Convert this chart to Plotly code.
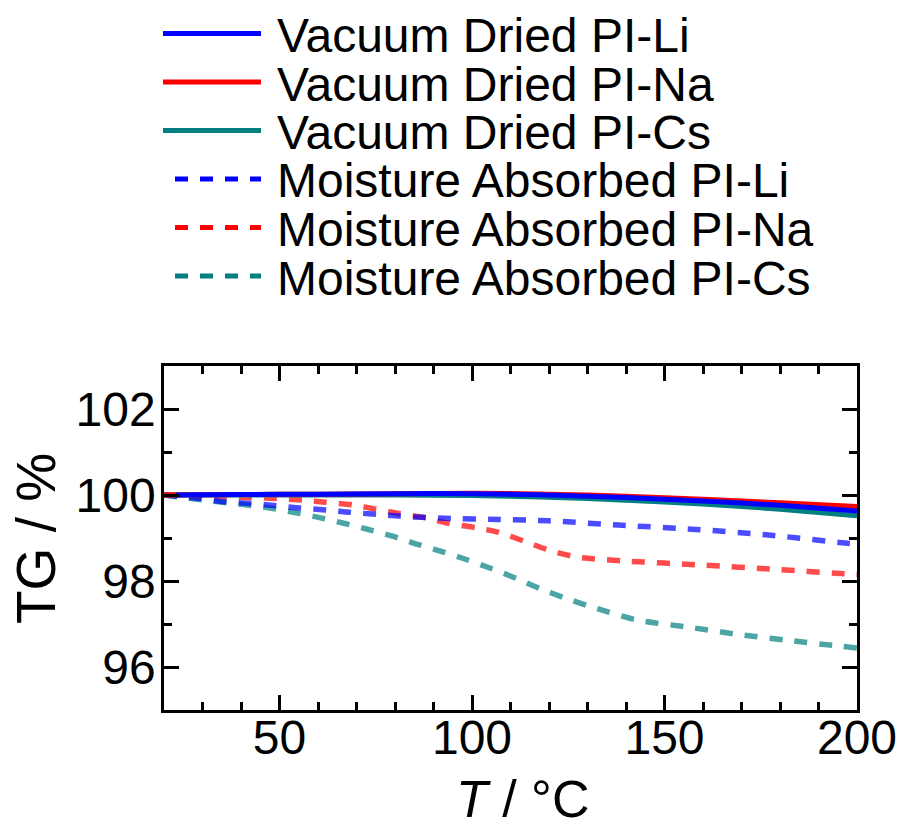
import plotly.graph_objects as go

# ---------------- data ----------------
NAMES = [
    "Vacuum Dried PI-Li",
    "Vacuum Dried PI-Na",
    "Vacuum Dried PI-Cs",
    "Moisture Absorbed PI-Li",
    "Moisture Absorbed PI-Na",
    "Moisture Absorbed PI-Cs",
]

T_VD_LI = [23, 40, 60, 80, 100, 120, 140, 160, 180, 200]
TG_VD_LI = [100.0, 100.01, 100.02, 100.03, 100.03, 100.0, 99.94, 99.86, 99.76, 99.63]

T_VD_NA = [20, 40, 60, 80, 100, 120, 140, 160, 180, 200]
TG_VD_NA = [100.0, 100.01, 100.02, 100.03, 100.04, 100.02, 99.97, 99.9, 99.82, 99.73]

T_VD_CS = [20, 40, 60, 80, 100, 120, 140, 160, 180, 200]
TG_VD_CS = [100.0, 100.0, 100.0, 100.0, 99.99, 99.95, 99.88, 99.79, 99.67, 99.52]

T_MA_LI = [20, 29, 36, 42, 49, 55, 62, 68, 75, 81, 87, 93, 107, 120, 138, 158, 177, 196, 200]
TG_MA_LI = [100.0, 99.92, 99.84, 99.81, 99.75, 99.70, 99.65, 99.60, 99.55, 99.51, 99.48,
            99.46, 99.43, 99.40, 99.30, 99.20, 99.07, 98.89, 98.86]

T_MA_NA = [20, 36, 49, 56, 62, 69, 75, 81, 88, 94, 101, 107, 114, 120, 127, 139, 160, 179, 198, 200]
TG_MA_NA = [100.0, 99.96, 99.92, 99.88, 99.83, 99.77, 99.67, 99.57, 99.47, 99.34, 99.24,
            99.13, 98.91, 98.72, 98.56, 98.47, 98.37, 98.27, 98.16, 98.15]

T_MA_CS = [20, 27.7, 34.2, 40.6, 47.1, 53.6, 60.1, 66.4, 72.6, 79.1, 85.6, 92, 98.5, 105,
           111.5, 117.5, 124, 131, 143, 156, 169, 182, 196, 200]
TG_MA_CS = [100.0, 99.91, 99.84, 99.78, 99.70, 99.60, 99.48, 99.35, 99.21, 99.05, 98.86,
            98.69, 98.50, 98.29, 98.06, 97.83, 97.61, 97.40, 97.09, 96.93, 96.76, 96.62,
            96.48, 96.44]

X_RANGE = [20, 200]
Y_RANGE = [95, 103]
X_TITLE = "<i>T</i> / °C"
Y_TITLE = "TG / %"

# ---------------- style ----------------
FONT = "Liberation Sans, Arial, sans-serif"
C_BLUE = "#0000ff"
C_RED = "#ff0000"
C_TEAL = "#008080"
DASH = "13px,12px"

fig = go.Figure()

dashed = [
    (T_MA_CS, TG_MA_CS, C_TEAL, NAMES[5]),
    (T_MA_NA, TG_MA_NA, C_RED, NAMES[4]),
    (T_MA_LI, TG_MA_LI, C_BLUE, NAMES[3]),
]
solid = [
    (T_VD_CS, TG_VD_CS, C_TEAL, NAMES[2]),
    (T_VD_NA, TG_VD_NA, C_RED, NAMES[1]),
    (T_VD_LI, TG_VD_LI, C_BLUE, NAMES[0]),
]
for x, y, c, n in dashed:
    fig.add_trace(go.Scatter(x=x, y=y, mode="lines", name=n, opacity=0.7,
                             line=dict(color=c, width=5.5, dash=DASH, shape="spline", smoothing=0.8),
                             showlegend=False))
for x, y, c, n in solid:
    fig.add_trace(go.Scatter(x=x, y=y, mode="lines", name=n,
                             line=dict(color=c, width=5, shape="spline", smoothing=0.8),
                             showlegend=False))

# ---------------- custom legend & titles (pixel helpers) ----------------
W, H = 904, 832
ML, MR, MT, MB = 164, 47, 366, 122
PW, PH = W - ML - MR, H - MT - MB


def px_x(px):
    return (px - ML) / PW


def px_y(py):
    return (H - MB - py) / PH


legend_rows = [
    (NAMES[0], C_BLUE, "solid"),
    (NAMES[1], C_RED, "solid"),
    (NAMES[2], C_TEAL, "solid"),
    (NAMES[3], C_BLUE, DASH),
    (NAMES[4], C_RED, DASH),
    (NAMES[5], C_TEAL, DASH),
]
row_y = [33.5, 82, 130.5, 179, 227.5, 276]
for (name, color, dash), ry in zip(legend_rows, row_y):
    x0 = 163 if dash == "solid" else 175
    fig.add_shape(type="line", xref="paper", yref="paper",
                  x0=px_x(x0), x1=px_x(261), y0=px_y(ry), y1=px_y(ry),
                  line=dict(color=color, width=5, dash=dash))
    fig.add_annotation(xref="paper", yref="paper", x=px_x(275), y=px_y(ry + 2),
                       text=name, showarrow=False, xanchor="left", yanchor="middle",
                       font=dict(family=FONT, size=48, color="black"))

# axis titles
fig.add_annotation(xref="paper", yref="paper", x=px_x(522), y=px_y(799),
                   text=X_TITLE, showarrow=False, xanchor="center", yanchor="middle",
                   font=dict(family=FONT, size=52, color="black"))
fig.add_annotation(xref="paper", yref="paper", x=px_x(36), y=px_y(539),
                   text=Y_TITLE, showarrow=False, xanchor="center", yanchor="middle",
                   textangle=-90, font=dict(family=FONT, size=55, color="black"))

axis_common = dict(
    showgrid=False, zeroline=False, showline=True, linecolor="black", linewidth=2.5,
    mirror="ticks", ticks="inside", ticklen=15, tickwidth=2.5, tickcolor="black",
    tickfont=dict(family=FONT, size=48, color="black"), automargin=False,
)

fig.update_layout(
    width=W, height=H,
    margin=dict(l=ML, r=MR, t=MT, b=MB, pad=0),
    paper_bgcolor="white", plot_bgcolor="white",
    font=dict(family=FONT, color="black"),
    showlegend=False,
    xaxis=dict(range=X_RANGE, tick0=0, dtick=50, ticklabelstandoff=-16,
               minor=dict(dtick=10, tick0=0, ticks="inside", ticklen=8, tickwidth=2.5, tickcolor="black"),
               **axis_common),
    yaxis=dict(range=Y_RANGE, tick0=0, dtick=2, ticklabelstandoff=-4,
               minor=dict(dtick=1, tick0=0, ticks="inside", ticklen=8, tickwidth=2.5, tickcolor="black"),
               **axis_common),
)

fig.write_html("out.html")
